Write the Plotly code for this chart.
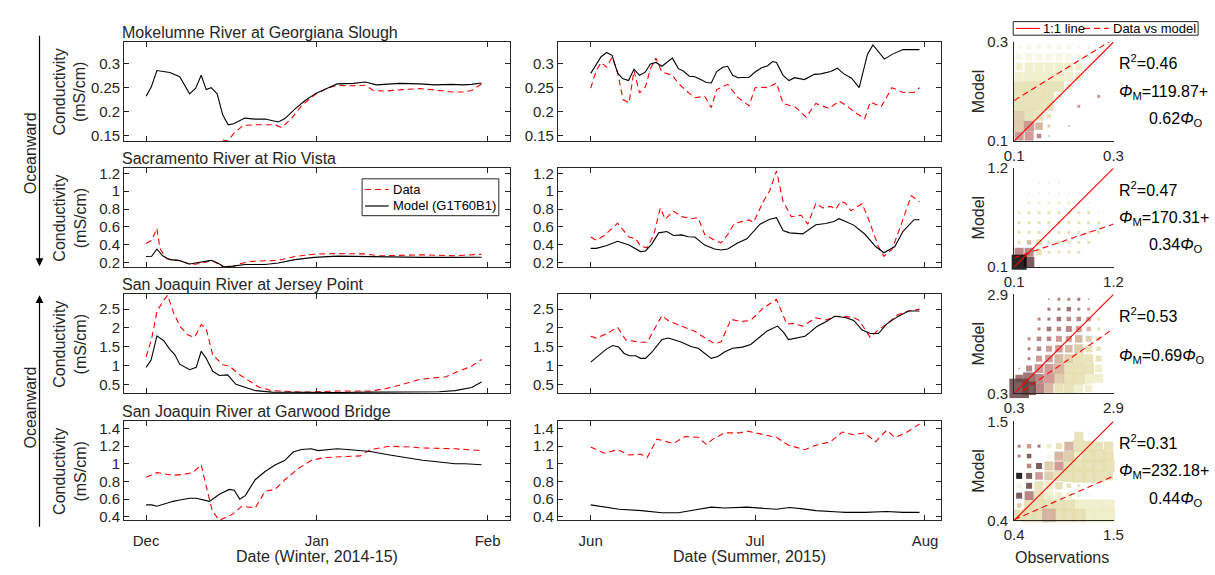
import numpy as np
import pandas as pd
import plotly.graph_objects as go

W, H = 1215, 575
FONT = "Liberation Sans, Arial, Helvetica, sans-serif"
INK = "#262626"
RED = "#ff0000"

# ---------------------------------------------------------------- time axes
WINTER_START = pd.Timestamp("2014-12-01")
SUMMER_START = pd.Timestamp("2015-06-01")
WINTER_RANGE = ["2014-11-27", "2015-02-05"]
SUMMER_RANGE = ["2015-05-26", "2015-08-04"]
WINTER_TICKS = ["2014-12-01", "2015-01-01", "2015-02-01"]
WINTER_TICKTEXT = ["Dec", "Jan", "Feb"]
SUMMER_TICKS = ["2015-06-01", "2015-07-01", "2015-08-01"]
SUMMER_TICKTEXT = ["Jun", "Jul", "Aug"]

STATIONS = [
    "Mokelumne River at Georgiana Slough",
    "Sacramento River at Rio Vista",
    "San Joaquin River at Jersey Point",
    "San Joaquin River at Garwood Bridge",
]
Y_RANGES = [[0.138, 0.346], [0.149, 1.258], [0.26, 2.895], [0.359, 1.48]]
Y_TICKS = [
    [0.15, 0.2, 0.25, 0.3],
    [0.2, 0.4, 0.6, 0.8, 1, 1.2],
    [0.5, 1, 1.5, 2, 2.5],
    [0.4, 0.6, 0.8, 1, 1.2, 1.4],
]
Y_TICKTEXT = [
    ["0.15", "0.2", "0.25", "0.3"],
    ["0.2", "0.4", "0.6", "0.8", "1", "1.2"],
    ["0.5", "1", "1.5", "2", "2.5"],
    ["0.4", "0.6", "0.8", "1", "1.2", "1.4"],
]

# ------------------------------------------- conductivity series (mS/cm)
# days counted from the first of December / June
MOK_W_MODEL_DAY = [0, 0.95, 1.96, 4.3, 6.1, 7.9, 9.0, 10.0, 10.9, 11.8, 12.9, 13.9, 14.9,
                   15.9, 17.9, 19.8, 21.6, 22.8, 24.0, 25.2, 27.0, 28.75, 30.8, 32.9, 34.7,
                   37.7, 39.8, 41.8, 46.0, 49.6, 52.5, 55.5, 57.6, 59.1, 60.9]
MOK_W_MODEL = [0.232, 0.252, 0.286, 0.282, 0.273, 0.237, 0.249, 0.276, 0.246, 0.25, 0.237,
               0.193, 0.172, 0.174, 0.186, 0.184, 0.184, 0.181, 0.178, 0.185, 0.205, 0.222,
               0.238, 0.249, 0.258, 0.259, 0.262, 0.256, 0.259, 0.258, 0.256, 0.257, 0.256,
               0.257, 0.26]
MOK_W_DATA_DAY = [13.9, 14.9, 15.9, 17.7, 19.8, 21.9, 23.4, 24.6, 26.4, 28.2, 30.5, 32.9,
                  34.7, 37.1, 39.8, 41.25, 43.6, 46.6, 49.6, 52.5, 55.5, 57.6, 59.1, 60.9]
MOK_W_DATA = [0.14, 0.138, 0.154, 0.171, 0.172, 0.172, 0.172, 0.166, 0.185, 0.212, 0.234,
              0.249, 0.255, 0.254, 0.255, 0.244, 0.243, 0.246, 0.248, 0.245, 0.241, 0.241,
              0.244, 0.258]
MOK_S_MODEL_DAY = [0, 1.0, 1.9, 2.9, 3.9, 4.9, 5.8, 6.9, 7.9, 8.9, 9.9, 10.9, 11.9, 13.0,
                   13.9, 14.9, 16.0, 16.9, 18.0, 19.0, 19.9, 21.1, 22.0, 23.0, 24.1, 25.0,
                   25.9, 26.9, 28.9, 30.0, 31.2, 32.3, 33.2, 33.9, 35.1, 36.2, 37.2, 39.0,
                   40.8, 42.0, 43.8, 45.0, 46.2, 47.6, 49.0, 50.5, 51.5, 52.6, 53.6, 55.0,
                   57.0, 59.0, 60.0]
MOK_S_MODEL = [0.28, 0.30, 0.315, 0.324, 0.318, 0.281, 0.269, 0.265, 0.289, 0.276, 0.282,
               0.30, 0.303, 0.295, 0.303, 0.312, 0.29, 0.285, 0.274, 0.273, 0.268, 0.261,
               0.26, 0.284, 0.293, 0.295, 0.276, 0.271, 0.272, 0.283, 0.292, 0.296, 0.305,
               0.303, 0.276, 0.265, 0.271, 0.267, 0.278, 0.279, 0.284, 0.291, 0.279, 0.27,
               0.25, 0.32, 0.34, 0.325, 0.31, 0.32, 0.33, 0.33, 0.33]
MOK_S_DATA_DAY = [0, 1.0, 1.9, 2.9, 3.9, 4.9, 5.9, 7.0, 7.9, 8.9, 10.0, 10.9, 11.9, 13.0,
                  14.9, 16.0, 18.0, 19.0, 20.8, 22.0, 23.0, 25.0, 26.9, 28.9, 30.0, 31.2,
                  32.3, 33.9, 35.1, 37.5, 39.3, 41.1, 43.5, 45.3, 46.5, 48.0, 50.0, 51.0,
                  53.0, 55.0, 57.0, 59.0, 60.0]
MOK_S_DATA = [0.249, 0.286, 0.303, 0.293, 0.314, 0.283, 0.225, 0.218, 0.286, 0.239, 0.252,
              0.29, 0.312, 0.283, 0.276, 0.259, 0.238, 0.229, 0.232, 0.208, 0.246, 0.257,
              0.229, 0.212, 0.25, 0.251, 0.25, 0.26, 0.217, 0.208, 0.188, 0.217, 0.206,
              0.222, 0.214, 0.2, 0.185, 0.22, 0.21, 0.25, 0.24, 0.24, 0.25]

SAC_W_MODEL_DAY = [0, 1.0, 1.96, 3.0, 4.3, 6.1, 7.9, 9.7, 11.8, 13.0, 14.2, 15.7, 18.0,
                   21.6, 24.0, 27.0, 30.5, 34.7, 39.5, 42.4, 50.2, 55.5, 60.9]
SAC_W_MODEL = [0.268, 0.27, 0.352, 0.276, 0.233, 0.222, 0.185, 0.207, 0.225, 0.196, 0.152,
               0.16, 0.178, 0.178, 0.196, 0.233, 0.258, 0.272, 0.268, 0.258, 0.258, 0.258,
               0.26]
SAC_W_DATA_DAY = [0, 1.0, 1.96, 2.5, 3.7, 6.1, 8.2, 10.3, 12.0, 14.2, 15.5, 16.8, 19.2,
                  24.0, 27.0, 30.5, 34.7, 39.5, 42.4, 50.2, 56.1, 60.9]
SAC_W_DATA = [0.413, 0.45, 0.584, 0.359, 0.243, 0.222, 0.174, 0.196, 0.225, 0.14, 0.145,
              0.185, 0.214, 0.225, 0.268, 0.294, 0.301, 0.297, 0.276, 0.287, 0.276, 0.294]
SAC_S_MODEL_DAY = [0, 1.0, 2.8, 4.9, 7.0, 9.1, 10.0, 11.2, 12.4, 13.9, 15.1, 16.6, 17.8,
                   19.0, 20.8, 22.6, 23.8, 25.0, 26.8, 28.5, 30.9, 32.7, 33.9, 35.1, 36.3,
                   38.7, 41.1, 42.9, 44.4, 45.3, 46.5, 48.0, 50.0, 52.0, 53.5, 55.5, 57.0,
                   59.0, 60.0]
SAC_S_MODEL = [0.359, 0.359, 0.388, 0.439, 0.396, 0.323, 0.33, 0.413, 0.533, 0.548, 0.504,
               0.51, 0.489, 0.486, 0.396, 0.352, 0.341, 0.352, 0.42, 0.467, 0.63, 0.685,
               0.703, 0.559, 0.533, 0.522, 0.624, 0.638, 0.66, 0.692, 0.66, 0.62, 0.52,
               0.38, 0.31, 0.38, 0.55, 0.68, 0.68]
SAC_S_DATA_DAY = [0, 1.0, 2.5, 4.9, 7.0, 8.2, 9.1, 10.3, 11.5, 12.7, 13.6, 15.1, 16.6,
                  18.4, 19.6, 20.8, 22.6, 23.8, 25.0, 26.2, 28.9, 29.7, 31.5, 32.7, 33.9,
                  35.1, 36.6, 38.4, 39.6, 41.1, 42.3, 43.8, 44.7, 45.6, 46.5, 47.5, 49.5,
                  50.5, 51.5, 52.5, 53.5, 55.0, 56.5, 58.5, 60.0]
SAC_S_DATA = [0.486, 0.45, 0.504, 0.641, 0.486, 0.467, 0.385, 0.366, 0.51, 0.812, 0.685,
              0.776, 0.715, 0.692, 0.703, 0.514, 0.45, 0.42, 0.514, 0.638, 0.678, 0.65,
              0.885, 1.01, 1.228, 0.885, 0.714, 0.73, 0.63, 0.866, 0.812, 0.83, 0.794,
              0.885, 0.866, 0.78, 0.86, 0.72, 0.55, 0.38, 0.27, 0.35, 0.6, 0.95, 0.88]

SJJ_W_MODEL_DAY = [0, 0.9, 1.96, 3.2, 4.3, 5.2, 6.1, 7.9, 9.1, 10.0, 10.9, 12.1, 13.3,
                   14.8, 16.3, 18.1, 19.9, 22.8, 28.8, 34.7, 40.7, 46.7, 50.2, 53.2, 56.1,
                   57.9, 59.1, 60.9]
SJJ_W_MODEL = [0.95, 1.146, 1.79, 1.66, 1.43, 1.29, 1.035, 0.888, 0.95, 1.38, 1.19, 0.846,
               0.733, 0.75, 0.5, 0.415, 0.33, 0.29, 0.28, 0.28, 0.29, 0.3, 0.3, 0.3, 0.33,
               0.39, 0.415, 0.56]
SJJ_W_DATA_DAY = [0, 1.0, 1.96, 3.1, 3.9, 4.9, 6.1, 7.6, 8.8, 10.0, 10.9, 12.1, 13.9, 15.1,
                  16.9, 18.7, 20.4, 22.8, 28.8, 34.7, 40.7, 43.7, 46.7, 49.6, 54.4, 56.8,
                  59.1, 60.9]
SJJ_W_DATA = [1.23, 1.71, 2.44, 2.72, 2.87, 2.44, 2.05, 1.81, 1.75, 2.09, 1.98, 1.28, 1.02,
              0.99, 0.76, 0.59, 0.43, 0.33, 0.29, 0.32, 0.32, 0.39, 0.5, 0.63, 0.7, 0.85,
              0.98, 1.16]
SJJ_S_MODEL_DAY = [0, 2.8, 4.0, 5.1, 6.1, 7.1, 8.2, 9.1, 10.0, 11.2, 13.0, 14.2, 16.6,
                   18.4, 19.6, 20.8, 22.0, 23.2, 24.4, 25.9, 27.7, 29.2, 30.4, 32.2, 34.1,
                   35.2, 36.1, 37.6, 39.1, 40.0, 41.2, 43.0, 44.5, 45.7, 46.6, 48.0, 49.5,
                   51.0, 52.5, 54.0, 56.0, 58.0, 60.0]
SJJ_S_MODEL = [1.09, 1.43, 1.53, 1.49, 1.32, 1.26, 1.26, 1.19, 1.19, 1.36, 1.69, 1.73,
               1.62, 1.5, 1.46, 1.32, 1.19, 1.24, 1.36, 1.46, 1.49, 1.56, 1.7, 1.92, 2.05,
               1.88, 1.69, 1.73, 1.78, 1.88, 2.03, 2.17, 2.31, 2.29, 2.27, 2.2, 1.95, 1.85,
               1.85, 2.1, 2.3, 2.45, 2.45]
SJJ_S_DATA_DAY = [0, 1.0, 2.8, 4.9, 6.4, 9.1, 10.3, 13.0, 14.2, 17.2, 19.0, 21.1, 22.6,
                  23.8, 25.6, 27.4, 29.2, 31.5, 33.9, 35.8, 36.9, 38.7, 41.1, 42.9, 44.7,
                  46.5, 48.0, 49.0, 51.0, 52.5, 54.0, 56.0, 58.0, 60.0]
SJJ_S_DATA = [1.78, 1.73, 1.84, 2.02, 1.68, 1.62, 1.62, 2.33, 2.19, 2.02, 1.91, 1.71, 1.58,
              1.63, 2.23, 2.17, 2.2, 2.53, 2.76, 2.1, 2.12, 2.05, 2.27, 2.21, 2.31, 2.3,
              2.28, 2.2, 1.75, 1.95, 2.1, 2.35, 2.45, 2.5]

SJG_W_MODEL_DAY = [0, 1.0, 1.96, 3.75, 4.9, 6.1, 7.9, 9.1, 10.3, 11.5, 13.3, 15.1, 16.0,
                   17.0, 18.0, 19.8, 21.6, 23.4, 25.2, 26.7, 28.2, 30.0, 31.2, 32.9, 34.7,
                   37.1, 40.7, 44.2, 47.8, 50.2, 53.2, 56.1, 57.9, 60.9]
SJG_W_MODEL = [0.535, 0.535, 0.52, 0.557, 0.575, 0.59, 0.61, 0.61, 0.59, 0.575, 0.656,
               0.71, 0.7, 0.6, 0.64, 0.82, 0.913, 0.986, 1.04, 1.133, 1.162, 1.17, 1.15,
               1.16, 1.17, 1.16, 1.14, 1.1, 1.06, 1.04, 1.02, 1.0, 1.0, 0.99]
SJG_W_DATA_DAY = [0, 1.96, 4.9, 6.7, 8.5, 10.0, 10.9, 12.0, 13.3, 15.7, 17.4, 19.8, 21.6,
                  23.4, 25.2, 27.6, 30.0, 32.3, 35.3, 38.9, 40.7, 44.2, 47.8, 50.2, 56.1,
                  60.9]
SJG_W_DATA = [0.847, 0.9, 0.87, 0.88, 0.9, 0.99, 0.75, 0.47, 0.36, 0.43, 0.52, 0.5, 0.69,
              0.71, 0.82, 0.945, 1.04, 1.07, 1.08, 1.09, 1.16, 1.2, 1.19, 1.18, 1.17, 1.15]
SJG_S_MODEL_DAY = [0, 2.8, 5.2, 9.3, 13.0, 16.0, 19.6, 22.0, 24.4, 28.5, 33.9, 36.3, 38.7,
                   41.1, 45.3, 46.5, 50.0, 54.0, 57.0, 60.0]
SJG_S_MODEL = [0.535, 0.505, 0.485, 0.47, 0.445, 0.445, 0.48, 0.51, 0.5, 0.51, 0.485,
               0.505, 0.49, 0.47, 0.455, 0.45, 0.45, 0.46, 0.45, 0.45]
SJG_S_DATA_DAY = [0, 2.5, 4.9, 7.0, 9.1, 10.3, 12.1, 15.1, 17.2, 19.6, 21.1, 22.3, 24.4,
                  27.1, 28.6, 31.0, 33.9, 36.1, 39.1, 41.1, 43.8, 45.9, 48.0, 50.0, 52.0,
                  54.0, 55.5, 57.5, 60.0]
SJG_S_DATA = [1.19, 1.12, 1.16, 1.1, 1.11, 1.07, 1.28, 1.23, 1.31, 1.3, 1.22, 1.28, 1.35,
              1.35, 1.37, 1.34, 1.3, 1.21, 1.16, 1.21, 1.25, 1.36, 1.33, 1.35, 1.25, 1.38,
              1.3, 1.35, 1.45]

WINTER_SERIES = [
    (MOK_W_DATA_DAY, MOK_W_DATA, MOK_W_MODEL_DAY, MOK_W_MODEL),
    (SAC_W_DATA_DAY, SAC_W_DATA, SAC_W_MODEL_DAY, SAC_W_MODEL),
    (SJJ_W_DATA_DAY, SJJ_W_DATA, SJJ_W_MODEL_DAY, SJJ_W_MODEL),
    (SJG_W_DATA_DAY, SJG_W_DATA, SJG_W_MODEL_DAY, SJG_W_MODEL),
]
SUMMER_SERIES = [
    (MOK_S_DATA_DAY, MOK_S_DATA, MOK_S_MODEL_DAY, MOK_S_MODEL),
    (SAC_S_DATA_DAY, SAC_S_DATA, SAC_S_MODEL_DAY, SAC_S_MODEL),
    (SJJ_S_DATA_DAY, SJJ_S_DATA, SJJ_S_MODEL_DAY, SJJ_S_MODEL),
    (SJG_S_DATA_DAY, SJG_S_DATA, SJG_S_MODEL_DAY, SJG_S_MODEL),
]

# ------------------------------------ observation vs model density grids
# 10 x 10 bins, first string = highest model bin. Size: base-36 level,
# shade: 0 (dark) .. 9 (pale) on a pink colour ramp.
SCATTER_RANGES = [[0.1, 0.3], [0.1, 1.2], [0.3, 2.9], [0.4, 1.5]]
SCATTER_TICKTEXT = [["0.1", "0.3"], ["0.1", "1.2"], ["0.3", "2.9"], ["0.4", "1.5"]]

MOK_CELL_SIZE = ["2333332210", "4555554320", "5666665400", "6777765000", "7777740000",
                 "7777300020", "7776002000", "7763000000", "7752010000", "6631000000"]
MOK_CELL_SHADE = ["9999999990", "9999999990", "8888888900", "8888888000", "7777780000",
                  "7777700040", "7777004000", "6777000000", "6456040000", "4434000000"]
SAC_CELL_SIZE = ["0000000000", "0011100000", "0111111000", "1222222100", "2222222210",
                 "2222222220", "2222222220", "2342222200", "6642222000", "a700000000"]
SAC_CELL_SHADE = ["9999999999", "9988899999", "9888888999", "8888888899", "8777777789",
                  "7777777779", "7777777779", "7577777799", "3377777999", "0199999999"]
SJJ_CELL_SIZE = ["0001222100", "0002232210", "0022333320", "0023344320", "0233445430",
                 "0234556530", "0245667640", "1466777750", "5867788760", "d976676500"]
SJJ_CELL_SHADE = ["9993332490", "9992223490", "9932233470", "9932334570", "9333445670",
                  "9334456770", "9344567770", "4344577780", "2234677880", "1135778890"]
SJG_CELL_SIZE = ["0000000000", "0000006000", "2323468766", "2303679997", "0346689998",
                 "4456789986", "4466532000", "4676542100", "3788888888", "8999999999"]
SJG_CELL_SHADE = ["9999999999", "9999997999", "3428757777", "3149568777", "9316477777",
                  "0146777777", "9178777777", "1378888888", "6777778888", "7775777888"]
CELL_SIZES = [MOK_CELL_SIZE, SAC_CELL_SIZE, SJJ_CELL_SIZE, SJG_CELL_SIZE]
CELL_SHADES = [MOK_CELL_SHADE, SAC_CELL_SHADE, SJJ_CELL_SHADE, SJG_CELL_SHADE]

R2 = [0.46, 0.47, 0.53, 0.31]
FIT_INTERCEPT = [119.87, 170.31, 0.0, 232.18]   # uS/cm
FIT_SLOPE = [0.62, 0.34, 0.69, 0.44]


# ---------------------------------------------------------------- helpers
def px(x):
    return x / W


def py(y):
    return 1 - y / H


def pink(t):
    hot = (min(1.0, t / 0.375),
           min(1.0, max(0.0, (t - 0.375) / 0.375)),
           min(1.0, max(0.0, (t - 0.75) / 0.25)))
    r, g, b = (np.sqrt((2 * t + h) / 3) for h in hot)
    return "rgb(%d,%d,%d)" % (round(255 * r), round(255 * g), round(255 * b))


def note(text, x, y, size=16, xanchor="center", yanchor="middle", angle=0, color=INK):
    return dict(text=text, x=px(x), y=py(y), xref="paper", yref="paper",
                showarrow=False, xanchor=xanchor, yanchor=yanchor, textangle=angle,
                borderpad=0, font=dict(family=FONT, size=size, color=color))


def hline(x0, x1, y, color, dash=None, width=1.1):
    line = dict(color=color, width=width)
    if dash:
        line["dash"] = dash
    return dict(type="line", xref="paper", yref="paper", x0=px(x0), x1=px(x1),
                y0=py(y), y1=py(y), line=line)


def box(x0, x1, y0, y1):
    return dict(type="rect", xref="paper", yref="paper", x0=px(x0), x1=px(x1),
                y0=py(y1), y1=py(y0), line=dict(color=INK, width=1), fillcolor="white")


ROW_TOP = [34, 164, 294, 425]
ROW_H = 102
COLS = [(116, 508), (557, 947), (1021, 1122)]
DASH = "6px,4px"

fig = go.Figure()
layout = {}
annotations = []

for r in range(4):
    top = ROW_TOP[r]
    ydom = [py(top + ROW_H), py(top)]
    for c in range(3):
        k = 3 * r + c + 1
        xname = "xaxis" if k == 1 else "xaxis%d" % k
        yname = "yaxis" if k == 1 else "yaxis%d" % k
        xref = "x" if k == 1 else "x%d" % k
        yref = "y" if k == 1 else "y%d" % k
        xdom = [px(COLS[c][0]), px(COLS[c][1])]
        tickfont = dict(family=FONT, size=15, color=INK)

        if c < 2:
            series = (WINTER_SERIES if c == 0 else SUMMER_SERIES)[r]
            start = WINTER_START if c == 0 else SUMMER_START
            d_day, d_val, m_day, m_val = series
            fig.add_trace(go.Scatter(
                x=start + pd.to_timedelta(d_day, unit="D"), y=d_val, mode="lines",
                line=dict(color=RED, width=1.1, dash=DASH), name="Data",
                showlegend=False, xaxis=xref, yaxis=yref))
            fig.add_trace(go.Scatter(
                x=start + pd.to_timedelta(m_day, unit="D"), y=m_val, mode="lines",
                line=dict(color="black", width=1.1), name="Model (G1T60B1)",
                showlegend=False, xaxis=xref, yaxis=yref))
            frame = dict(showline=True, linecolor=INK, linewidth=1, mirror="allticks",
                         ticks="inside", ticklen=5, tickwidth=1, tickcolor=INK,
                         showgrid=False, zeroline=False, tickfont=tickfont)
            layout[xname] = dict(
                frame, domain=xdom, anchor=yref, type="date",
                range=WINTER_RANGE if c == 0 else SUMMER_RANGE,
                tickvals=WINTER_TICKS if c == 0 else SUMMER_TICKS,
                ticktext=WINTER_TICKTEXT if c == 0 else SUMMER_TICKTEXT,
                showticklabels=(r == 3), ticklabelstandoff=7)
            layout[yname] = dict(
                frame, domain=ydom, anchor=xref, range=Y_RANGES[r],
                tickvals=Y_TICKS[r], ticktext=Y_TICKTEXT[r])
        else:
            lo, hi = SCATTER_RANGES[r]
            step = (hi - lo) / 10
            cells = []
            for i, (srow, crow) in enumerate(zip(CELL_SIZES[r], CELL_SHADES[r])):
                for j, (s, sh) in enumerate(zip(srow, crow)):
                    level = int(s, 36)
                    if level == 0:
                        continue
                    cells.append((int(sh), lo + (j + 0.5) * step,
                                  hi - (i + 0.5) * step, 1.5 * level))
            cells.sort(key=lambda t: -t[0])
            fig.add_trace(go.Scatter(
                x=[t[1] for t in cells], y=[t[2] for t in cells], mode="markers",
                marker=dict(symbol="square", size=[t[3] for t in cells],
                            color=[pink(t[0] / 9 * 0.9) for t in cells],
                            opacity=0.85, line=dict(width=0)),
                cliponaxis=False, showlegend=False, xaxis=xref, yaxis=yref))
            fig.add_trace(go.Scatter(
                x=[lo, hi], y=[lo, hi], mode="lines", line=dict(color=RED, width=1.1),
                name="1:1 line", showlegend=False, xaxis=xref, yaxis=yref))
            fx = np.array([lo, hi])
            fy = FIT_INTERCEPT[r] / 1000 + FIT_SLOPE[r] * fx
            fig.add_trace(go.Scatter(
                x=fx, y=fy, mode="lines", line=dict(color=RED, width=1.1, dash=DASH),
                name="Data vs model", showlegend=False, xaxis=xref, yaxis=yref))
            frame = dict(showline=True, linecolor=INK, linewidth=1, mirror=False,
                         ticks="", showgrid=False, zeroline=False, tickfont=tickfont)
            layout[xname] = dict(frame, domain=xdom, anchor=yref, range=[lo, hi],
                                 tickvals=[lo, hi], ticktext=SCATTER_TICKTEXT[r],
                                 ticklabelstandoff=1)
            layout[yname] = dict(frame, domain=ydom, anchor=xref, range=[lo, hi],
                                 tickvals=[lo, hi], ticktext=SCATTER_TICKTEXT[r],
                                 ticklabelstandoff=2)

            # fit statistics
            annotations.append(note("R<sup>2</sup>=%.2f" % R2[r], 1127, top + 21,
                                    xanchor="left", color="black"))
            if FIT_INTERCEPT[r]:
                annotations.append(note("<i>Φ</i><sub>M</sub>=%.2f+" % FIT_INTERCEPT[r],
                                        1127, top + 52, xanchor="left", color="black"))
                annotations.append(note("%.2f<i>Φ</i><sub>O</sub>" % FIT_SLOPE[r],
                                        1157, top + 80, xanchor="left", color="black"))
            else:
                annotations.append(note("<i>Φ</i><sub>M</sub>=%.2f<i>Φ</i><sub>O</sub>"
                                        % FIT_SLOPE[r], 1127, top + 64, xanchor="left",
                                        color="black"))
            annotations.append(note("Model", 985, top + ROW_H / 2, angle=-90))

    annotations.append(note(STATIONS[r], 113, top - 10, xanchor="left"))
    annotations.append(note("Conductivity<br>(mS/cm)", 61, top + ROW_H / 2, angle=-90))

annotations.append(note("Date (Winter, 2014-15)", 312, 564))
annotations.append(note("Date (Summer, 2015)", 752, 564))
annotations.append(note("Observations", 1070, 565))

# river-direction arrows
annotations.append(note("Oceanward", 21, 149, angle=-90))
annotations.append(note("Oceanward", 21, 411, angle=-90))
for head, tail in ((265, 33), (295, 528)):
    annotations.append(dict(x=px(30), y=py(head), xref="paper", yref="paper",
                            ax=0, ay=tail - head, axref="pixel", ayref="pixel",
                            text="", showarrow=True, arrowhead=2, arrowsize=1.3,
                            arrowwidth=1.2, arrowcolor="black"))

# legend keys: time-series key inside the Rio Vista winter panel,
# fit-line key above the scatter column
shapes = [
    box(358, 497, 175, 213),
    hline(361, 385, 186, RED, DASH, 1.2),
    hline(361, 385, 203, "black", None, 1.2),
    box(1020, 1208, 13, 27),
    hline(1023, 1047, 20, RED),
    hline(1092, 1117, 20, RED, DASH),
]
annotations.append(note("Data", 388, 186, size=13, xanchor="left", color="black"))
annotations.append(note("Model (G1T60B1)", 388, 203, size=13, xanchor="left",
                        color="black"))
annotations.append(note("1:1 line", 1049, 20, size=13, xanchor="left", color="black"))
annotations.append(note("Data vs model", 1120, 20, size=13, xanchor="left",
                        color="black"))

fig.update_layout(
    width=W, height=H, autosize=False,
    margin=dict(l=0, r=0, t=0, b=0),
    paper_bgcolor="white", plot_bgcolor="white",
    font=dict(family=FONT, size=15, color=INK),
    showlegend=False,
    annotations=annotations,
    shapes=shapes,
    **layout,
)

fig.write_html("out.html")
